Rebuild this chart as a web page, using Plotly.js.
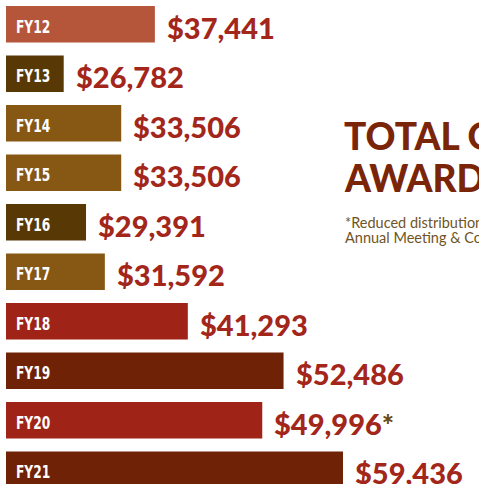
<!DOCTYPE html>
<html>
<head>
<meta charset="utf-8">
<script src="https://cdn.plot.ly/plotly-3.0.1.min.js"></script>
<style>html,body{margin:0;padding:0;background:#fff;}#chart{width:479px;height:484px;}</style>
</head>
<body>
<div id="chart"></div>
<script>
const categories = ['FY12','FY13','FY14','FY15','FY16','FY17','FY18','FY19','FY20','FY21'];
const values = [37441, 26782, 33506, 33506, 29391, 31592, 41293, 52486, 49996, 59436];
const barColors = ['#B5553A','#583906','#875814','#875814','#583906','#875814','#A02317','#6F2206','#A02317','#6F2206'];
const footnoteMarks = ['', '', '', '', '', '', '', '', '*', ''];
const titleLines = ['TOTAL GRANTS', 'AWARDED'];
const noteLines = ['*Reduced distribution due to cancellation of the', 'Annual Meeting & Conference'];

const fmt = v => '$' + v.toLocaleString('en-US');

const annotations = [];
categories.forEach((c, i) => {
  annotations.push({
    x: 0, xref: 'paper', y: c, yref: 'y',
    xanchor: 'left', yanchor: 'middle', align: 'left', xshift: 8, yshift: -2,
    text: c, showarrow: false,
    font: {family: '"DejaVu Sans", sans-serif', size: 18, color: '#ffffff', weight: 700}
  });
  const mark = footnoteMarks[i] ? '<span style="color:#6B4B12">' + footnoteMarks[i] + '</span>' : '';
  annotations.push({
    x: values[i], xref: 'x', y: c, yref: 'y',
    xanchor: 'left', yanchor: 'middle', xshift: 10, yshift: -3,
    text: fmt(values[i]) + mark, showarrow: false,
    font: {family: 'Lato, sans-serif', size: 29, color: '#A3261B', weight: 900}
  });
});

const titleTops = [111, 153];
titleLines.forEach((t, k) => annotations.push({
  xref: 'paper', yref: 'paper', x: (342 - 6) / 473, y: 1 - titleTops[k] / 484,
  xanchor: 'left', yanchor: 'top', align: 'left', showarrow: false,
  text: t,
  font: {family: 'Lato, sans-serif', size: 37, color: '#7A2508', weight: 900}
}));
const noteTops = [212, 227];
noteLines.forEach((t, k) => annotations.push({
  xref: 'paper', yref: 'paper', x: (343 - 6) / 473, y: 1 - noteTops[k] / 484,
  xanchor: 'left', yanchor: 'top', align: 'left', showarrow: false,
  text: t,
  font: {family: 'Lato, sans-serif', size: 14.5, color: '#6E5426'}
}));

const trace = {
  type: 'bar', orientation: 'h',
  y: categories, x: values,
  marker: {color: barColors, line: {width: 0}},
  hoverinfo: 'skip'
};

const pitch = 49.5;
const top0 = -0.5 + 0.5 / pitch;
const layout = {
  width: 479, height: 484,
  margin: {l: 6, r: 0, t: 0, b: 0, pad: 0},
  paper_bgcolor: '#ffffff', plot_bgcolor: '#ffffff',
  showlegend: false,
  bargap: 0.26,
  xaxis: {range: [20035, 20035 + 473 / 0.008553], visible: false, fixedrange: true},
  yaxis: {type: 'category', range: [top0 + 484 / pitch, top0], visible: false, fixedrange: true},
  annotations: annotations
};

Plotly.newPlot('chart', [trace], layout, {displayModeBar: false, staticPlot: true}).then(() => {
  // condense the FY labels horizontally (no condensed face installed)
  document.querySelectorAll('#chart text.annotation-text').forEach(t => {
    if (/^FY\d\d$/.test(t.textContent)) {
      const x = parseFloat(t.getAttribute('x')) || 0;
      const s = 0.68;
      t.setAttribute('transform', 'matrix(' + s + ',0,0,1,' + (x * (1 - s)) + ',0)');
    }
  });
});
</script>
</body>
</html>
